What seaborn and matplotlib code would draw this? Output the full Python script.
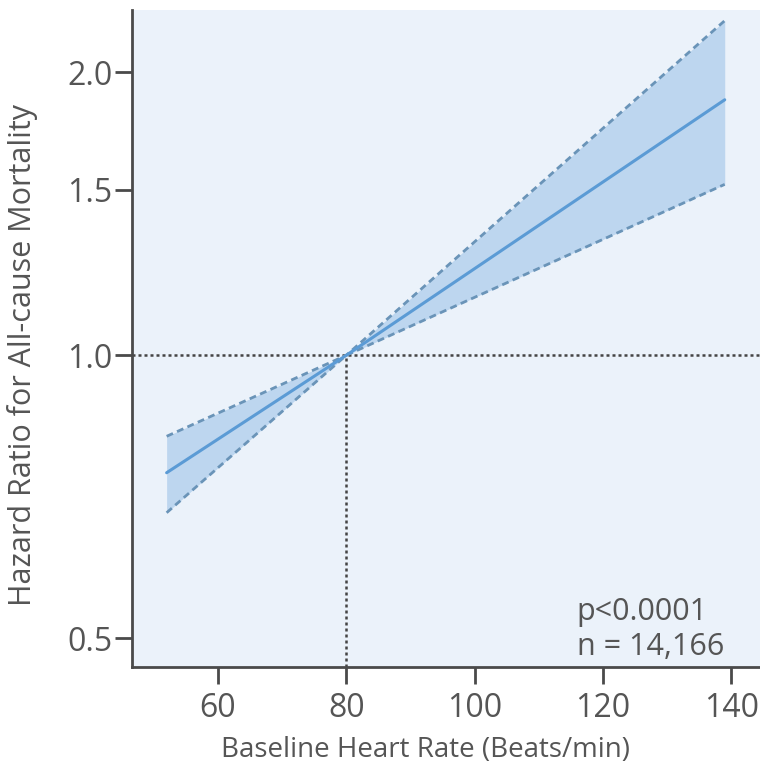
import matplotlib
matplotlib.use("Agg")
import matplotlib.pyplot as plt
import seaborn as sns
import pandas as pd
import numpy as np
from matplotlib.ticker import FixedLocator, NullLocator

# Data
heart_rate = [52, 80, 139]
hr_estimate = [0.75, 1.0, 1.87]
hr_lower = [0.68, 1.0, 1.52]
hr_upper = [0.82, 1.0, 2.27]
x_ticks = [60, 80, 100, 120, 140]
y_ticks = [0.5, 1.0, 1.5, 2.0]
y_tick_labels = ["0.5", "1.0", "1.5", "2.0"]

df = pd.DataFrame({"hr": heart_rate, "est": hr_estimate, "lo": hr_lower, "hi": hr_upper})

sns.set_style("ticks")
plt.rcParams["font.family"] = ["Open Sans", "DejaVu Sans"]

text_col = "#555555"
fig = plt.figure(figsize=(7.6, 7.71), dpi=100)
ax = fig.add_axes([132 / 760, 1 - 667 / 771, (760 - 132) / 760, (667 - 10) / 771])
ax.set_facecolor("#EBF2FA")

ax.fill_between(df["hr"], df["lo"], df["hi"], color="#BDD6EF", linewidth=0, zorder=2)
sns.lineplot(data=df, x="hr", y="est", ax=ax, color="#5B9BD5", linewidth=2.2, zorder=4)
sns.lineplot(data=df, x="hr", y="lo", ax=ax, color="#6A94B8", linewidth=2, linestyle=(0, (2.5, 1.6)), zorder=3)
sns.lineplot(data=df, x="hr", y="hi", ax=ax, color="#6A94B8", linewidth=2, linestyle=(0, (2.5, 1.6)), zorder=3)

ax.set_yscale("log")
ax.set_xlim(46.6, 144.5)
ax.set_ylim(0.466, 2.33)

ax.axhline(1.0, color="#444444", linestyle=(0, (1.2, 1.2)), linewidth=1.8, zorder=1)
ax.plot([80, 80], [0.466, 1.0], color="#444444", linestyle=(0, (1.2, 1.2)), linewidth=1.8, zorder=1)

ax.yaxis.set_major_locator(FixedLocator(y_ticks))
ax.yaxis.set_minor_locator(NullLocator())
ax.set_yticklabels(y_tick_labels)
ax.set_xticks(x_ticks)

for s in ["top", "right"]:
    ax.spines[s].set_visible(False)
for s in ["left", "bottom"]:
    ax.spines[s].set_color("#4a4a4a")
    ax.spines[s].set_linewidth(2)

ax.tick_params(axis="both", which="major", length=12, width=2, color="#4a4a4a",
               labelsize=23, labelcolor=text_col)
ax.tick_params(axis="x", pad=6)
ax.tick_params(axis="y", pad=2)

ax.set_xlabel("Baseline Heart Rate (Beats/min)", fontsize=20, color=text_col)
ax.set_ylabel("Hazard Ratio for All-cause Mortality", fontsize=22, color=text_col)
ax.xaxis.set_label_coords(0.467, -0.105)
ax.yaxis.set_label_coords(-0.15, 0.475)

ax.text(0.708, 0.057, "p<0.0001\nn = 14,166", transform=ax.transAxes, fontsize=22,
        color=text_col, ha="left", va="center", linespacing=1.25)

fig.savefig("out.png", dpi=100, facecolor="white")
